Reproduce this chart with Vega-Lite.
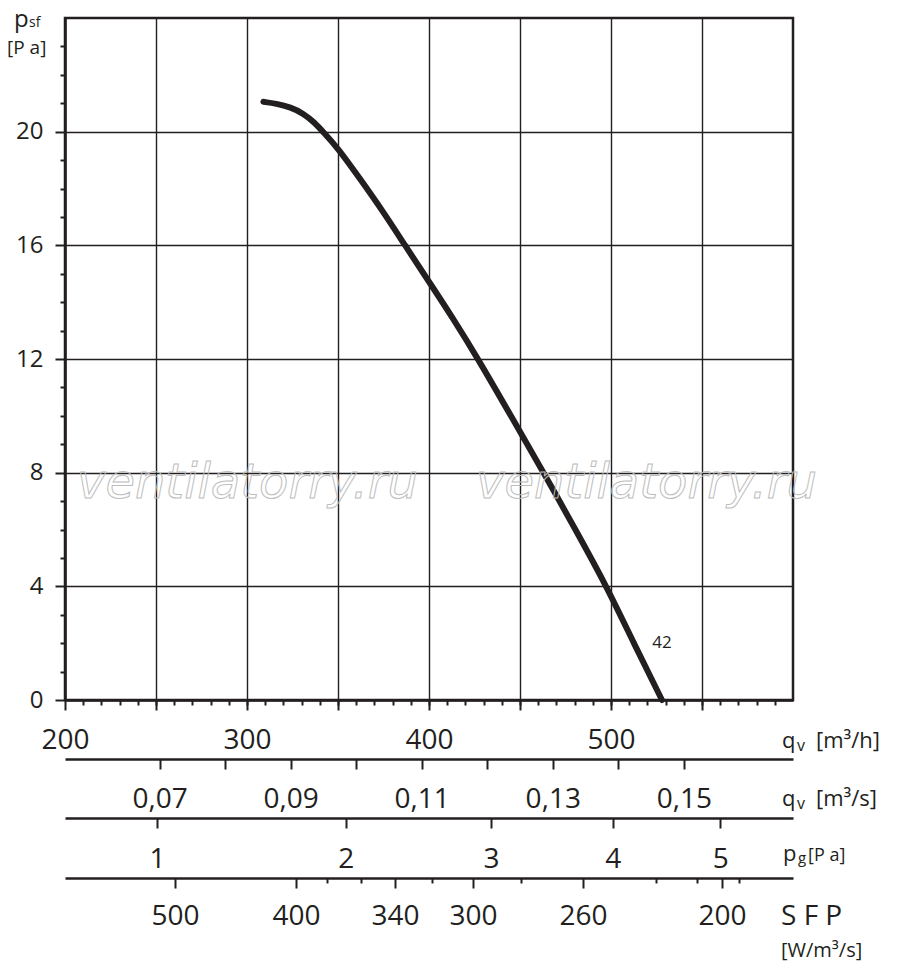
{
  "$schema": "https://vega.github.io/schema/vega-lite/v6.json",
  "width": 728,
  "height": 682,
  "autosize": {"type": "none"},
  "padding": {"left": 65, "top": 18, "right": 107, "bottom": 267},
  "config": {
    "view": {"stroke": "#231f20", "strokeWidth": 2.5},
    "font": "Open Sans",
    "text": {"font": "Open Sans", "color": "#231f20"},
    "axis": {
      "labelFont": "Open Sans",
      "labelColor": "#231f20",
      "labelFontSize": 28,
      "tickColor": "#231f20",
      "tickWidth": 2,
      "domainColor": "#231f20",
      "domainWidth": 2.5,
      "gridColor": "#231f20",
      "gridWidth": 1.4,
      "labelFlush": false,
      "labelOverlap": false
    }
  },
  "data": {
    "values": [
      {"q": 309, "p": 21.05},
      {"q": 316, "p": 20.99},
      {"q": 324, "p": 20.86},
      {"q": 331, "p": 20.64},
      {"q": 337, "p": 20.33},
      {"q": 342, "p": 19.98},
      {"q": 350, "p": 19.42},
      {"q": 362, "p": 18.35},
      {"q": 375, "p": 17.17},
      {"q": 387, "p": 15.98},
      {"q": 400, "p": 14.72},
      {"q": 413, "p": 13.45},
      {"q": 427, "p": 12.0},
      {"q": 445, "p": 10.0},
      {"q": 463, "p": 8.0},
      {"q": 480, "p": 6.05},
      {"q": 497.6, "p": 4.0},
      {"q": 512.5, "p": 2.0},
      {"q": 528, "p": 0.0}
    ]
  },
  "layer": [
    {
      "mark": {"type": "point", "opacity": 0},
      "encoding": {
        "x": {"field": "q", "type": "quantitative", "scale": {"domain": [200, 600], "nice": false, "zero": false},
          "axis": {"orient": "bottom", "title": null, "grid": false, "domain": false, "labels": false, "tickSize": 5,
            "values": [210, 220, 230, 240, 250, 260, 270, 280, 290, 300, 310, 320, 330, 340, 350, 360, 370, 380, 390, 400, 410, 420, 430, 440, 450, 460, 470, 480, 490, 500, 510, 520, 530, 540, 550, 560, 570, 580, 590]}},
        "y": {"field": "p", "type": "quantitative", "scale": {"domain": [0, 24], "nice": false, "zero": false},
          "axis": {"orient": "left", "title": null, "grid": false, "domain": false, "labels": false, "tickSize": 5,
            "values": [1, 2, 3, 5, 6, 7, 9, 10, 11, 13, 14, 15, 17, 18, 19, 21, 22, 23]}}
      }
    },
    {
      "mark": {"type": "point", "opacity": 0},
      "encoding": {
        "x": {"field": "q", "type": "quantitative", "scale": {"domain": [200, 600], "nice": false, "zero": false},
          "axis": {"orient": "bottom", "title": null, "grid": false, "offset": 59, "tickSize": 10, "labelPadding": 16,
            "values": [252, 288, 324, 360, 396, 432, 468, 504, 540],
            "labelExpr": "round(datum.value / 36) % 2 == 1 ? replace(format(datum.value / 3600, '.2f'), '.', ',') : ''"}},
        "y": {"field": "p", "type": "quantitative", "scale": {"domain": [0, 24], "nice": false, "zero": false}, "axis": null}
      }
    },
    {
      "mark": {"type": "point", "opacity": 0},
      "encoding": {
        "x": {"field": "q", "type": "quantitative", "scale": {"domain": [200, 600], "nice": false, "zero": false},
          "axis": {"orient": "bottom", "title": null, "grid": false, "offset": 118, "tickSize": 10, "labelPadding": 17,
            "values": [250.5, 354.3, 434, 501, 560],
            "labelExpr": "datum.value < 300 ? '1' : datum.value < 400 ? '2' : datum.value < 470 ? '3' : datum.value < 530 ? '4' : '5'"}},
        "y": {"field": "p", "type": "quantitative", "scale": {"domain": [0, 24], "nice": false, "zero": false}, "axis": null}
      }
    },
    {
      "mark": {"type": "point", "opacity": 0},
      "encoding": {
        "x": {"field": "q", "type": "quantitative", "scale": {"domain": [200, 600], "nice": false, "zero": false},
          "axis": {"orient": "bottom", "title": null, "grid": false, "offset": 178, "tickSize": 10, "labelPadding": 14,
            "values": [260.4, 326.9, 381.3, 424.2, 484.6, 561],
            "labelExpr": "datum.value < 300 ? '500' : datum.value < 350 ? '400' : datum.value < 400 ? '340' : datum.value < 450 ? '300' : datum.value < 520 ? '260' : '200'"}},
        "y": {"field": "p", "type": "quantitative", "scale": {"domain": [0, 24], "nice": false, "zero": false}, "axis": null}
      }
    },
    {
      "mark": {"type": "point", "opacity": 0},
      "encoding": {
        "x": {"field": "q", "type": "quantitative", "scale": {"domain": [200, 600], "nice": false, "zero": false},
          "axis": {"orient": "bottom", "title": null, "grid": false, "offset": 178, "tickSize": 5, "labels": false, "domain": false,
            "values": [344, 362.6, 401.6, 450.5, 524.7, 547.3, 570.3]}},
        "y": {"field": "p", "type": "quantitative", "scale": {"domain": [0, 24], "nice": false, "zero": false}, "axis": null}
      }
    },
    {
      "mark": {"type": "line", "color": "#231f20", "strokeWidth": 6, "interpolate": "basis", "strokeCap": "round"},
      "encoding": {
        "x": {"field": "q", "type": "quantitative", "scale": {"domain": [200, 600], "nice": false, "zero": false},
          "axis": {"orient": "bottom", "title": null, "grid": true, "tickSize": 10, "labelPadding": 16,
            "values": [200, 250, 300, 350, 400, 450, 500, 550],
            "labelExpr": "datum.value % 100 == 0 ? datum.label : ''"}},
        "y": {"field": "p", "type": "quantitative", "scale": {"domain": [0, 24], "nice": false, "zero": false},
          "axis": {"orient": "left", "title": null, "grid": true, "tickSize": 10, "labelPadding": 12, "labelFontSize": 24,
            "values": [0, 4, 8, 12, 16, 20]}}
      }
    },
    {
      "data": {"values": [{}]},
      "mark": {"type": "text", "text": "42", "fontSize": 17, "align": "center", "baseline": "middle"},
      "encoding": {
        "x": {"datum": 528, "type": "quantitative", "scale": {"domain": [200, 600], "nice": false, "zero": false}, "axis": null},
        "y": {"datum": 2, "type": "quantitative", "scale": {"domain": [0, 24], "nice": false, "zero": false}, "axis": null}
      }
    },
    {
      "data": {"values": [{}]},
      "mark": {"type": "text", "text": "ventilatorry.ru", "font": "DejaVu Sans", "fontStyle": "italic", "fontSize": 48,
        "align": "left", "baseline": "alphabetic", "fillOpacity": 0, "stroke": "#bdbdbd", "strokeWidth": 1, "dx": 12, "dy": 25},
      "encoding": {
        "x": {"datum": 200, "type": "quantitative", "scale": {"domain": [200, 600], "nice": false, "zero": false}, "axis": null},
        "y": {"datum": 8, "type": "quantitative", "scale": {"domain": [0, 24], "nice": false, "zero": false}, "axis": null}
      }
    },
    {
      "data": {"values": [{}]},
      "mark": {"type": "text", "text": "ventilatorry.ru", "font": "DejaVu Sans", "fontStyle": "italic", "fontSize": 48,
        "align": "left", "baseline": "alphabetic", "fillOpacity": 0, "stroke": "#bdbdbd", "strokeWidth": 1, "dx": 47, "dy": 25},
      "encoding": {
        "x": {"datum": 400, "type": "quantitative", "scale": {"domain": [200, 600], "nice": false, "zero": false}, "axis": null},
        "y": {"datum": 8, "type": "quantitative", "scale": {"domain": [0, 24], "nice": false, "zero": false}, "axis": null}
      }
    },
    {
      "data": {"values": [{}]},
      "mark": {"type": "text", "text": "p", "fontSize": 24, "align": "left", "baseline": "alphabetic", "dx": -51, "dy": 9},
      "encoding": {
        "x": {"datum": 200, "type": "quantitative", "scale": {"domain": [200, 600], "nice": false, "zero": false}, "axis": null},
        "y": {"datum": 24, "type": "quantitative", "scale": {"domain": [0, 24], "nice": false, "zero": false}, "axis": null}
      }
    },
    {
      "data": {"values": [{}]},
      "mark": {"type": "text", "text": "sf", "fontSize": 14, "align": "left", "baseline": "alphabetic", "dx": -36, "dy": 9},
      "encoding": {
        "x": {"datum": 200, "type": "quantitative", "scale": {"domain": [200, 600], "nice": false, "zero": false}, "axis": null},
        "y": {"datum": 24, "type": "quantitative", "scale": {"domain": [0, 24], "nice": false, "zero": false}, "axis": null}
      }
    },
    {
      "data": {"values": [{}]},
      "mark": {"type": "text", "text": "[P a]", "fontSize": 19, "align": "left", "baseline": "alphabetic", "dx": -58, "dy": 36},
      "encoding": {
        "x": {"datum": 200, "type": "quantitative", "scale": {"domain": [200, 600], "nice": false, "zero": false}, "axis": null},
        "y": {"datum": 24, "type": "quantitative", "scale": {"domain": [0, 24], "nice": false, "zero": false}, "axis": null}
      }
    },
    {
      "data": {"values": [{}]},
      "mark": {"type": "text", "text": "q", "fontSize": 22, "align": "left", "baseline": "alphabetic", "dx": -11, "dy": 48},
      "encoding": {
        "x": {"datum": 600, "type": "quantitative", "scale": {"domain": [200, 600], "nice": false, "zero": false}, "axis": null},
        "y": {"datum": 0, "type": "quantitative", "scale": {"domain": [0, 24], "nice": false, "zero": false}, "axis": null}
      }
    },
    {
      "data": {"values": [{}]},
      "mark": {"type": "text", "text": "v", "fontSize": 16, "align": "left", "baseline": "alphabetic", "dx": 4, "dy": 51},
      "encoding": {
        "x": {"datum": 600, "type": "quantitative", "scale": {"domain": [200, 600], "nice": false, "zero": false}, "axis": null},
        "y": {"datum": 0, "type": "quantitative", "scale": {"domain": [0, 24], "nice": false, "zero": false}, "axis": null}
      }
    },
    {
      "data": {"values": [{}]},
      "mark": {"type": "text", "text": "[m³/h]", "fontSize": 22, "align": "left", "baseline": "alphabetic", "dx": 23, "dy": 48},
      "encoding": {
        "x": {"datum": 600, "type": "quantitative", "scale": {"domain": [200, 600], "nice": false, "zero": false}, "axis": null},
        "y": {"datum": 0, "type": "quantitative", "scale": {"domain": [0, 24], "nice": false, "zero": false}, "axis": null}
      }
    },
    {
      "data": {"values": [{}]},
      "mark": {"type": "text", "text": "q", "fontSize": 22, "align": "left", "baseline": "alphabetic", "dx": -11, "dy": 106},
      "encoding": {
        "x": {"datum": 600, "type": "quantitative", "scale": {"domain": [200, 600], "nice": false, "zero": false}, "axis": null},
        "y": {"datum": 0, "type": "quantitative", "scale": {"domain": [0, 24], "nice": false, "zero": false}, "axis": null}
      }
    },
    {
      "data": {"values": [{}]},
      "mark": {"type": "text", "text": "v", "fontSize": 16, "align": "left", "baseline": "alphabetic", "dx": 4, "dy": 109},
      "encoding": {
        "x": {"datum": 600, "type": "quantitative", "scale": {"domain": [200, 600], "nice": false, "zero": false}, "axis": null},
        "y": {"datum": 0, "type": "quantitative", "scale": {"domain": [0, 24], "nice": false, "zero": false}, "axis": null}
      }
    },
    {
      "data": {"values": [{}]},
      "mark": {"type": "text", "text": "[m³/s]", "fontSize": 22, "align": "left", "baseline": "alphabetic", "dx": 23, "dy": 106},
      "encoding": {
        "x": {"datum": 600, "type": "quantitative", "scale": {"domain": [200, 600], "nice": false, "zero": false}, "axis": null},
        "y": {"datum": 0, "type": "quantitative", "scale": {"domain": [0, 24], "nice": false, "zero": false}, "axis": null}
      }
    },
    {
      "data": {"values": [{}]},
      "mark": {"type": "text", "text": "p", "fontSize": 22, "align": "left", "baseline": "alphabetic", "dx": -10, "dy": 161},
      "encoding": {
        "x": {"datum": 600, "type": "quantitative", "scale": {"domain": [200, 600], "nice": false, "zero": false}, "axis": null},
        "y": {"datum": 0, "type": "quantitative", "scale": {"domain": [0, 24], "nice": false, "zero": false}, "axis": null}
      }
    },
    {
      "data": {"values": [{}]},
      "mark": {"type": "text", "text": "g", "fontSize": 15, "align": "left", "baseline": "alphabetic", "dx": 5, "dy": 163},
      "encoding": {
        "x": {"datum": 600, "type": "quantitative", "scale": {"domain": [200, 600], "nice": false, "zero": false}, "axis": null},
        "y": {"datum": 0, "type": "quantitative", "scale": {"domain": [0, 24], "nice": false, "zero": false}, "axis": null}
      }
    },
    {
      "data": {"values": [{}]},
      "mark": {"type": "text", "text": "[P a]", "fontSize": 18, "align": "left", "baseline": "alphabetic", "dx": 15, "dy": 161},
      "encoding": {
        "x": {"datum": 600, "type": "quantitative", "scale": {"domain": [200, 600], "nice": false, "zero": false}, "axis": null},
        "y": {"datum": 0, "type": "quantitative", "scale": {"domain": [0, 24], "nice": false, "zero": false}, "axis": null}
      }
    },
    {
      "data": {"values": [{}]},
      "mark": {"type": "text", "text": "S F P", "fontSize": 28, "align": "left", "baseline": "alphabetic", "dx": -12, "dy": 225},
      "encoding": {
        "x": {"datum": 600, "type": "quantitative", "scale": {"domain": [200, 600], "nice": false, "zero": false}, "axis": null},
        "y": {"datum": 0, "type": "quantitative", "scale": {"domain": [0, 24], "nice": false, "zero": false}, "axis": null}
      }
    },
    {
      "data": {"values": [{}]},
      "mark": {"type": "text", "text": "[W/m³/s]", "fontSize": 20, "align": "left", "baseline": "alphabetic", "dx": -12, "dy": 257},
      "encoding": {
        "x": {"datum": 600, "type": "quantitative", "scale": {"domain": [200, 600], "nice": false, "zero": false}, "axis": null},
        "y": {"datum": 0, "type": "quantitative", "scale": {"domain": [0, 24], "nice": false, "zero": false}, "axis": null}
      }
    }
  ],
  "resolve": {"axis": {"x": "independent", "y": "independent"}}
}
